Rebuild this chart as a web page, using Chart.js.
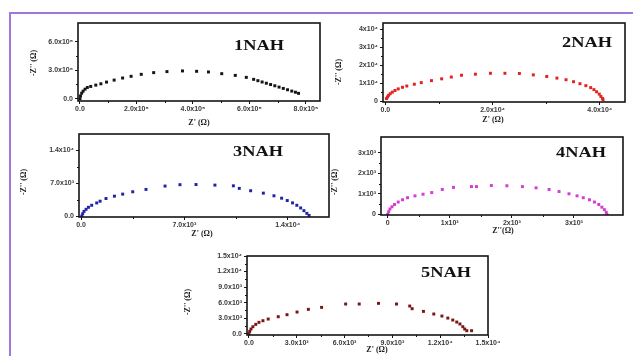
<!DOCTYPE html>
<html><head><meta charset="utf-8">
<script src="https://cdn.jsdelivr.net/npm/chart.js@4.4.1/dist/chart.umd.min.js"></script>
<style>
html,body{margin:0;padding:0;width:633px;height:356px;overflow:hidden;background:#fff;}
#frame{position:absolute;left:9px;top:12px;width:640px;height:360px;border-top:2px solid #a077da;border-left:2px solid #a077da;}
canvas{position:absolute;}
</style></head><body>
<div id="frame"></div>
<canvas id="c1"></canvas><canvas id="c2"></canvas><canvas id="c3"></canvas><canvas id="c4"></canvas><canvas id="c5"></canvas>
<script>
// ---- data (mantissa units of the axis labels) ----
const nah1Re = [0,0.02,0.06,0.11,0.18,0.26,0.38,0.56,0.74,0.94,1.21,1.51,1.81,2.17,2.61,3.08,3.63,4.13,4.55,5.02,5.50,5.89,6.15,6.30,6.45,6.60,6.75,6.90,7.05,7.20,7.35,7.50,7.63,7.74];
const nah1Im = [0,0.29,0.57,0.79,1.00,1.18,1.29,1.43,1.57,1.75,1.96,2.18,2.36,2.57,2.75,2.86,2.93,2.89,2.82,2.64,2.46,2.25,2.04,1.90,1.76,1.63,1.49,1.36,1.22,1.08,0.94,0.80,0.68,0.56];

const nah2Re = [0.02,0.04,0.06,0.09,0.13,0.18,0.24,0.32,0.40,0.54,0.67,0.86,1.05,1.23,1.42,1.68,1.96,2.23,2.50,2.76,3.01,3.20,3.37,3.51,3.63,3.74,3.83,3.89,3.94,3.99,4.02,4.05,4.06];
const nah2Im = [0.15,0.24,0.33,0.42,0.51,0.60,0.69,0.78,0.85,0.95,1.04,1.15,1.25,1.35,1.45,1.51,1.56,1.56,1.55,1.47,1.38,1.29,1.20,1.09,0.98,0.87,0.76,0.65,0.53,0.40,0.27,0.16,0.09];

const nah3Re = [0.05,0.11,0.20,0.34,0.50,0.72,1.06,1.29,1.69,2.26,2.82,3.50,4.40,5.69,6.70,7.79,9.07,10.32,10.72,11.49,12.35,13.07,13.59,13.97,14.33,14.62,14.88,15.10,15.30,15.45];
const nah3Im = [0,0.50,1.00,1.44,1.87,2.30,2.80,3.17,3.74,4.24,4.68,5.18,5.68,6.40,6.69,6.72,6.60,6.45,5.90,5.40,4.89,4.32,3.81,3.31,2.81,2.30,1.73,1.15,0.58,0.14];

const nah4Re = [0,0.016,0.037,0.07,0.11,0.17,0.24,0.32,0.44,0.57,0.71,0.88,1.06,1.35,1.43,1.67,1.92,2.17,2.39,2.60,2.76,2.92,3.05,3.15,3.25,3.33,3.40,3.45,3.49,3.52,3.53];
const nah4Im = [0,0.13,0.26,0.37,0.48,0.60,0.71,0.81,0.90,0.98,1.06,1.21,1.31,1.35,1.35,1.40,1.39,1.35,1.29,1.21,1.11,1.00,0.90,0.81,0.71,0.60,0.48,0.35,0.23,0.10,0];

const nah5Re = [0,0.05,0.13,0.25,0.43,0.63,0.88,1.21,1.84,2.39,3.02,3.73,4.56,6.07,6.92,8.13,9.26,10.09,10.24,10.95,11.60,12.11,12.48,12.79,13.04,13.24,13.42,13.54,13.67,13.97];
const nah5Im = [0,0.45,0.90,1.35,1.80,2.19,2.51,2.83,3.28,3.67,4.18,4.70,5.08,5.73,5.73,5.86,5.73,5.34,4.83,4.31,3.80,3.41,3.02,2.64,2.25,1.87,1.35,0.90,0.58,0.58];

// ---- ticks ----
const x1Ticks = [0,2,4,6,8];            const x1Labels = ['0.0','2.0x10\u2075','4.0x10\u2075','6.0x10\u2075','8.0x10\u2075'];
const y1Ticks = [0,3,6];                const y1Labels = ['0.0','3.0x10\u2075','6.0x10\u2075'];
const x2Ticks = [0,2,4];                const x2Labels = ['0.0','2.0x10\u2074','4.0x10\u2074'];
const y2Ticks = [0,1,2,3,4];            const y2Labels = ['0','1x10\u2074','2x10\u2074','3x10\u2074','4x10\u2074'];
const x3Ticks = [0,7,14];               const x3Labels = ['0.0','7.0x10\u00b3','1.4x10\u2074'];
const y3Ticks = [0,7,14];               const y3Labels = ['0.0','7.0x10\u00b3','1.4x10\u2074'];
const x4Ticks = [0,1,2,3];              const x4Labels = ['0','1x10\u00b3','2x10\u00b3','3x10\u00b3'];
const y4Ticks = [0,1,2,3];              const y4Labels = ['0','1x10\u00b3','2x10\u00b3','3x10\u00b3'];
const x5Ticks = [0,3,6,9,12,15];        const x5Labels = ['0.0','3.0x10\u00b3','6.0x10\u00b3','9.0x10\u00b3','1.2x10\u2074','1.5x10\u2074'];
const y5Ticks = [0,3,6,9,12,15];        const y5Labels = ['0.0','3.0x10\u00b3','6.0x10\u00b3','9.0x10\u00b3','1.2x10\u2074','1.5x10\u2074'];

const names = ['1NAH','2NAH','3NAH','4NAH','5NAH'];
const colors = ['#141414','#e2231f','#2024a6','#d63bd6','#7a1616'];

// ---- layout (page pixels) ----
const panels = [
  {id:'c1', re:nah1Re, im:nah1Im, xT:x1Ticks, xL:x1Labels, yT:y1Ticks, yL:y1Labels, xr:[-0.07,8.5], yr:[-0.25,8.0], box:[78,23,320,101], yt:[34,63], xt:[199,123], xs:"Z' (\u03a9)", np:[259,46]},
  {id:'c2', re:nah2Re, im:nah2Im, xT:x2Ticks, xL:x2Labels, yT:y2Ticks, yL:y2Labels, xr:[-0.044,4.47], yr:[-0.04,4.36], box:[383,23,625,102], yt:[339,72], xt:[493,120], xs:"Z' (\u03a9)", np:[587,43]},
  {id:'c3', re:nah3Re, im:nah3Im, xT:x3Ticks, xL:x3Labels, yT:y3Ticks, yL:y3Labels, xr:[-0.14,16.8], yr:[-0.2,17.5], box:[79,134,329,217], yt:[24,182], xt:[202,234], xs:"Z' (\u03a9)", np:[258,152]},
  {id:'c4', re:nah4Re, im:nah4Im, xT:x4Ticks, xL:x4Labels, yT:y4Ticks, yL:y4Labels, xr:[-0.107,3.79], yr:[-0.03,3.76], box:[381,137,623,215], yt:[335,182], xt:[503,231], xs:"Z''(\u03a9)", np:[581,153]},
  {id:'c5', re:nah5Re, im:nah5Im, xT:x5Ticks, xL:x5Labels, yT:y5Ticks, yL:y5Labels, xr:[-0.12,15.0], yr:[-0.25,15.0], box:[247,256,488,335], yt:[188,302], xt:[377,350], xs:"Z' (\u03a9)", np:[446,273]}
];
const EX = {l:66, t:8, r:22, b:30};

const deco = {
  id:'deco',
  afterDatasetsDraw(chart, args, o) {
    const ctx = chart.ctx, ca = chart.chartArea;
    const xs = chart.scales.x, ys = chart.scales.y;
    ctx.save();
    ctx.strokeStyle = '#151515';
    ctx.lineWidth = 1.6;
    ctx.strokeRect(ca.left, ca.top, ca.right - ca.left, ca.bottom - ca.top);
    ctx.lineWidth = 1;
    // minor ticks
    for (let i = 0; i + 1 < o.xT.length; i++) {
      const px = Math.round(xs.getPixelForValue((o.xT[i] + o.xT[i+1]) / 2)) + 0.5;
      ctx.beginPath(); ctx.moveTo(px, ca.bottom); ctx.lineTo(px, ca.bottom + 2); ctx.stroke();
    }
    for (let i = 0; i + 1 < o.yT.length; i++) {
      const py = Math.round(ys.getPixelForValue((o.yT[i] + o.yT[i+1]) / 2)) + 0.5;
      ctx.beginPath(); ctx.moveTo(ca.left, py); ctx.lineTo(ca.left - 2, py); ctx.stroke();
    }
    ctx.fillStyle = '#1a1a1a';
    ctx.textAlign = 'center'; ctx.textBaseline = 'middle';
    // axis titles
    ctx.font = 'bold 8px "Liberation Serif"';
    ctx.fillText(o.xs, o.xt[0] - o.cl, o.xt[1] - o.ct);
    ctx.save();
    ctx.translate(o.yt[0] - o.cl, o.yt[1] - o.ct);
    ctx.rotate(-Math.PI / 2);
    ctx.fillText("-Z'' (\u03a9)", 0, 0);
    ctx.restore();
    // panel name
    ctx.save();
    ctx.translate(o.np[0] - o.cl, o.np[1] - o.ct);
    ctx.scale(1.22, 1);
    ctx.font = 'bold 15px "Liberation Serif"';
    ctx.fillStyle = '#111';
    ctx.fillText(o.name, 0, 0);
    ctx.restore();
    ctx.restore();
  }
};

panels.forEach((p, k) => {
  const cv = document.getElementById(p.id);
  const [l, t, r, b] = p.box;
  const cl = l - EX.l, ct = t - EX.t, cw = r - l + EX.l + EX.r, ch = b - t + EX.t + EX.b;
  cv.style.left = cl + 'px'; cv.style.top = ct + 'px';
  cv.style.width = cw + 'px'; cv.style.height = ch + 'px';
  cv.width = cw; cv.height = ch;
  const tickFont = {family:'"Liberation Sans"', size:7, weight:'bold'};
  new Chart(cv, {
    type:'scatter',
    data:{datasets:[{
      data:p.re.map((x, i) => ({x:x, y:p.im[i]})),
      pointStyle:'rect', pointRadius:2.1, pointBorderWidth:0,
      backgroundColor:colors[k], borderColor:colors[k], showLine:false
    }]},
    options:{
      responsive:false, animation:false, devicePixelRatio:1,
      layout:{padding:{left:0, top:EX.t, right:EX.r, bottom:0}},
      plugins:{legend:{display:false}, tooltip:{enabled:false},
        deco:{xT:p.xT, yT:p.yT, cl:cl, ct:ct, xt:p.xt, yt:p.yt, xs:p.xs, np:p.np, name:names[k]}},
      scales:{
        x:{type:'linear', position:'bottom', min:p.xr[0], max:p.xr[1],
          afterBuildTicks:s => { s.ticks = p.xT.map(v => ({value:v})); },
          afterFit:s => { s.height = EX.b; s.paddingLeft = 0; s.paddingRight = 0; },
          ticks:{autoSkip:false, maxRotation:0, padding:1, color:'#3a3a3a', font:tickFont,
            callback:(v, i) => p.xL[i]},
          grid:{drawOnChartArea:false, drawTicks:true, tickLength:3, color:'#151515'},
          border:{display:false}},
        y:{type:'linear', position:'left', min:p.yr[0], max:p.yr[1],
          afterBuildTicks:s => { s.ticks = p.yT.map(v => ({value:v})); },
          afterFit:s => { s.width = EX.l; s.paddingTop = 0; s.paddingBottom = 0; },
          ticks:{autoSkip:false, padding:2, color:'#3a3a3a', font:tickFont,
            callback:(v, i) => p.yL[i]},
          grid:{drawOnChartArea:false, drawTicks:true, tickLength:3, color:'#151515'},
          border:{display:false}}
      }
    },
    plugins:[deco]
  });
});
</script>
</body></html>
